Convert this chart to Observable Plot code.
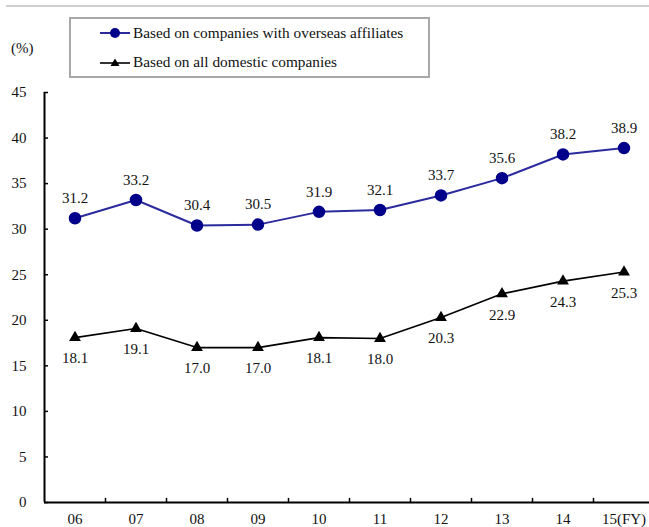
<!DOCTYPE html>
<html>
<head>
<meta charset="utf-8">
<script src="https://cdn.jsdelivr.net/npm/d3@7"></script>
<script src="https://cdn.jsdelivr.net/npm/@observablehq/plot@0.6"></script>
<style>
  html, body { margin: 0; padding: 0; background: #fff; }
  #wrap { position: relative; width: 649px; height: 527px; overflow: hidden; font-family: "Liberation Serif", "Times New Roman", serif; color: #111; }
  #topline { position: absolute; left: 6px; top: 5px; width: 643px; height: 2px; background: #cfcfcf; }
  #unit { position: absolute; left: 11px; top: 40px; font-size: 15px; }
  #legend { position: absolute; left: 69px; top: 17px; width: 357px; height: 57px; border: 2px solid #a8a8a8; box-sizing: content-box; background: #fff; z-index: 2; }
  .row { position: absolute; left: 28px; height: 20px; display: flex; align-items: center; font-size: 15.3px; white-space: nowrap; }
  .row svg { margin-right: 2px; }
  #chart { position: absolute; left: 0; top: 0; }
</style>
</head>
<body>
<div id="wrap">
  <div id="topline"></div>
  <div id="unit">(%)</div>
  <div id="legend"></div>
  <div id="chart"></div>
</div>
<script>
const years = ["06", "07", "08", "09", "10", "11", "12", "13", "14", "15"];
const tickLabels = ["06", "07", "08", "09", "10", "11", "12", "13", "14", "15(FY)"];
const overseas = [31.2, 33.2, 30.4, 30.5, 31.9, 32.1, 33.7, 35.6, 38.2, 38.9];
const domestic = [18.1, 19.1, 17.0, 17.0, 18.1, 18.0, 20.3, 22.9, 24.3, 25.3];
const yTicks = [0, 5, 10, 15, 20, 25, 30, 35, 40, 45];
const seriesNames = ["Based on companies with overseas affiliates", "Based on all domestic companies"];

const blueLine = "#2b2b9e";
const blueDot = "#00008a";
const font = "Liberation Serif, Times New Roman, serif";

const dataA = years.map((y, i) => ({year: y, value: overseas[i]}));
const dataB = years.map((y, i) => ({year: y, value: domestic[i]}));
const labelOf = new Map(years.map((y, i) => [y, tickLabels[i]]));

const chart = Plot.plot({
  width: 649,
  height: 527,
  marginTop: 92,
  marginBottom: 25,
  marginLeft: 44,
  marginRight: 0,
  style: {fontFamily: font, fontSize: "15px", color: "#111", background: "transparent", overflow: "visible"},
  x: {type: "band", domain: years, range: [44, 654], padding: 0},
  y: {domain: [0, 45]},
  marks: [
    Plot.axisY(yTicks, {tickSize: 0, tickPadding: 18, label: null, fontSize: 15, fontFamily: font}),
    Plot.axisX({tickSize: 0, tickPadding: 11, label: null, tickFormat: d => labelOf.get(d), fontSize: 15, fontFamily: font}),
    Plot.tickY(yTicks, {y: d => d, x: () => years[0], insetRight: 57, stroke: "#000", strokeWidth: 1.5}),
    Plot.ruleX(years.slice(1), {x: d => d, y1: 0, y2: 0.45, dx: -30.5, stroke: "#000", strokeWidth: 1.5}),
    Plot.ruleX([years[0]], {x: d => d, y1: 0, y2: 45, dx: -30.5, stroke: "#000", strokeWidth: 2}),
    Plot.ruleY([0], {stroke: "#000", strokeWidth: 2}),
    Plot.line(dataA, {x: "year", y: "value", stroke: blueLine, strokeWidth: 2}),
    Plot.dot(dataA, {x: "year", y: "value", r: 5.5, fill: blueDot, stroke: blueDot}),
    Plot.text(dataA, {x: "year", y: "value", text: d => d.value.toFixed(1), dy: -20, fill: "#111", fontSize: 15, fontFamily: font}),
    Plot.line(dataB, {x: "year", y: "value", stroke: "#000", strokeWidth: 1.6}),
    Plot.dot(dataB, {x: "year", y: "value", symbol: "triangle", r: 4.4, fill: "#000"}),
    Plot.text(dataB, {x: "year", y: "value", text: d => d.value.toFixed(1), dy: 21, fill: "#111", fontSize: 15, fontFamily: font})
  ]
});
document.getElementById("chart").appendChild(chart);

// legend
const legend = document.getElementById("legend");
const swatches = [
  `<svg width="32" height="12"><line x1="1" y1="6" x2="31" y2="6" stroke="${blueLine}" stroke-width="2"/><circle cx="16" cy="6" r="5" fill="${blueDot}"/></svg>`,
  `<svg width="32" height="12"><line x1="1" y1="7" x2="31" y2="7" stroke="#000" stroke-width="1.6"/><path d="M16,2.5 L20.5,10 L11.5,10 Z" fill="#000"/></svg>`
];
seriesNames.forEach((name, i) => {
  const row = document.createElement("div");
  row.className = "row";
  row.style.top = (i === 0 ? 4 : 33) + "px";
  row.innerHTML = swatches[i] + `<span>${name}</span>`;
  legend.appendChild(row);
});
</script>
</body>
</html>
